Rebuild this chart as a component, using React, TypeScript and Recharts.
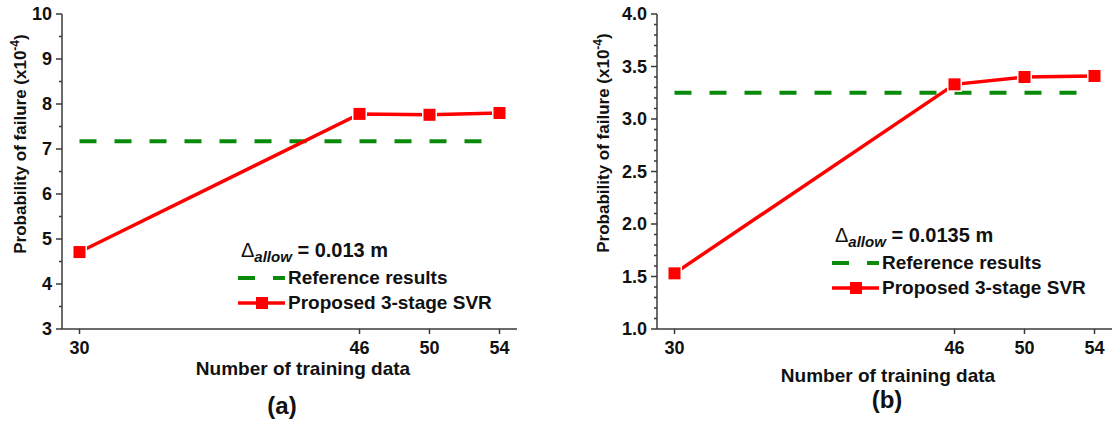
import React from "react";
import { LineChart, Line, XAxis, YAxis, Label, Legend } from "recharts";

// number of training data (x categories)
const trainingSizes = [30, 46, 50, 54];

// panel (a): delta_allow = 0.013 m
const proposedA = [4.71, 7.78, 7.76, 7.8];
const referenceA = [7.17, 7.17, 7.17, 7.17];
const yMajorA = [3, 4, 5, 6, 7, 8, 9, 10];

// panel (b): delta_allow = 0.0135 m
const proposedB = [1.53, 3.33, 3.4, 3.41];
const referenceB = [3.25, 3.25, 3.25, 3.25];
const yMajorB = [1.0, 1.5, 2.0, 2.5, 3.0, 3.5, 4.0];

const xTicks = [30, 46, 50, 54];
const xDomain = [29, 55];

const FONT = '"Liberation Sans", Arial, sans-serif';
const AXIS = "#3a3a3a";
const RED = "#ff0000";
const GREEN = "#0a8a0a";

function minorTicks(major: number[], step: number) {
    const out: number[] = [];
    const lo = major[0];
    const hi = major[major.length - 1];
    const n = Math.round((hi - lo) / step);
    for (let i = 0; i <= n; i++) out.push(Math.round((lo + i * step) * 100) / 100);
    return out;
}

const isMajor = (major: number[], v: number) => major.some((m) => Math.abs(m - v) < 1e-6);

interface PanelProps {
    proposed: number[];
    reference: number[];
    yMajor: number[];
    yStep: number;
    decimals: number;
    left: number;
    width: number;
    yAxisWidth: number;
    marginRight: number;
    allow: string;
    legendX: number;
    legendY: number;
    yTitleX: number;
    yTitleY: number;
    xTitleX: number;
    xTitleY: number;
    caption: string;
    captionX: number;
    captionY: number;
}

const HEIGHT = 428;

function Panel(p: PanelProps) {
    const data = trainingSizes.map((n, i) => ({ n, proposed: p.proposed[i], reference: p.reference[i] }));
    const yAll = minorTicks(p.yMajor, p.yStep);
    const yDomain = [p.yMajor[0], p.yMajor[p.yMajor.length - 1]];
    const txt = { fontFamily: FONT, fontWeight: 700, fill: "#111" } as const;

    return (
        <div style={{ position: "absolute", left: p.left, top: 0 }}>
            <LineChart width={p.width} height={HEIGHT} data={data} margin={{ top: 14, right: p.marginRight, bottom: 0, left: 0 }}>
                <XAxis
                    dataKey="n"
                    type="number"
                    domain={xDomain}
                    ticks={xTicks}
                    interval={0}
                    height={99}
                    tickSize={0}
                    tickMargin={0}
                    tickLine={false}
                    axisLine={{ stroke: AXIS, strokeWidth: 1.5 }}
                    tick={(t: any) => (
                        <g key={`xb-${t.payload.value}`}>
                            <line x1={t.x} x2={t.x} y1={t.y} y2={t.y + 5} stroke={AXIS} strokeWidth={1.5} />
                            <text x={t.x} y={t.y + 25} textAnchor="middle" fontSize={18} {...txt}>
                                {t.payload.value}
                            </text>
                        </g>
                    )}
                >
                    <Label
                        content={() => (
                            <g>
                                <text x={p.xTitleX} y={p.xTitleY} textAnchor="middle" fontSize={19} {...txt}>
                                    Number of training data
                                </text>
                                <text x={p.captionX} y={p.captionY} textAnchor="middle" fontSize={24} {...txt}>
                                    {p.caption}
                                </text>
                            </g>
                        )}
                    />
                </XAxis>
                <XAxis
                    xAxisId="top"
                    dataKey="n"
                    orientation="top"
                    type="number"
                    domain={xDomain}
                    ticks={xTicks}
                    interval={0}
                    height={0}
                    tickSize={0}
                    tickMargin={0}
                    tickLine={false}
                    axisLine={{ stroke: AXIS, strokeWidth: 1.5 }}
                    tick={(t: any) => (
                        <line key={`xt-${t.payload.value}`} x1={t.x} x2={t.x} y1={t.y} y2={t.y + 5} stroke={AXIS} strokeWidth={1.5} />
                    )}
                />
                <YAxis
                    type="number"
                    domain={yDomain}
                    ticks={yAll}
                    interval={0}
                    width={p.yAxisWidth}
                    tickSize={0}
                    tickMargin={0}
                    tickLine={false}
                    allowDataOverflow
                    axisLine={{ stroke: AXIS, strokeWidth: 1.5 }}
                    tick={(t: any) => {
                        const major = isMajor(p.yMajor, t.payload.value);
                        return (
                            <g key={`yl-${t.payload.value}`}>
                                <line x1={t.x} x2={t.x - (major ? 6 : 3)} y1={t.y} y2={t.y} stroke={AXIS} strokeWidth={1.5} />
                                {major && (
                                    <text x={t.x - 10} y={t.y} dy="0.36em" textAnchor="end" fontSize={18} {...txt}>
                                        {Number(t.payload.value).toFixed(p.decimals)}
                                    </text>
                                )}
                            </g>
                        );
                    }}
                >
                    <Label
                        content={() => (
                            <text
                                transform={`translate(${p.yTitleX}, ${p.yTitleY}) rotate(-90)`}
                                textAnchor="middle"
                                dy="0.36em"
                                fontSize={17}
                                {...txt}
                            >
                                Probability of failure (x10
                                <tspan dy={-7} fontSize={12}>-4</tspan>
                                <tspan dy={7}>)</tspan>
                            </text>
                        )}
                    />
                </YAxis>
                <YAxis
                    yAxisId="r"
                    orientation="right"
                    type="number"
                    domain={yDomain}
                    ticks={yAll}
                    interval={0}
                    width={0}
                    tickSize={0}
                    tickMargin={0}
                    tickLine={false}
                    allowDataOverflow
                    axisLine={{ stroke: AXIS, strokeWidth: 1.5 }}
                    tick={(t: any) => {
                        const major = isMajor(p.yMajor, t.payload.value);
                        return (
                            <line key={`yr-${t.payload.value}`} x1={t.x} x2={t.x - (major ? 6 : 3)} y1={t.y} y2={t.y} stroke={AXIS} strokeWidth={1.5} />
                        );
                    }}
                />
                <Legend
                    layout="vertical"
                    align="center"
                    verticalAlign="middle"
                    wrapperStyle={{ left: 0, top: 0, width: p.width, height: HEIGHT, pointerEvents: "none" }}
                    content={() => {
                        const lx = p.legendX - p.left;
                        const ly = p.legendY;
                        return (
                            <svg width={p.width} height={HEIGHT} style={{ position: "absolute", left: 0, top: 0 }}>
                                <text x={lx + 3} y={ly} fontFamily={FONT} fontSize={20} fill="#111">
                                    Δ
                                    <tspan dy={5} fontSize={15} fontStyle="italic" fontWeight={700}>allow</tspan>
                                    <tspan dy={-5} fontWeight={700}> = {p.allow}</tspan>
                                </text>
                                <line x1={lx} x2={lx + 47} y1={ly + 21} y2={ly + 21} stroke={GREEN} strokeWidth={4} strokeDasharray="17 18" />
                                <text x={lx + 50} y={ly + 27} fontSize={19} {...txt}>
                                    Reference results
                                </text>
                                <line x1={lx} x2={lx + 47} y1={ly + 46} y2={ly + 46} stroke={RED} strokeWidth={3.5} />
                                <rect x={lx + 18} y={ly + 40} width={12} height={12} fill={RED} />
                                <text x={lx + 50} y={ly + 52} fontSize={19} {...txt}>
                                    Proposed 3-stage SVR
                                </text>
                            </svg>
                        );
                    }}
                />
                <Line
                    dataKey="reference"
                    name="Reference results"
                    stroke={GREEN}
                    strokeWidth={4}
                    strokeDasharray="17 18"
                    dot={false}
                    isAnimationActive={false}
                />
                <Line
                    dataKey="proposed"
                    name="Proposed 3-stage SVR"
                    stroke={RED}
                    strokeWidth={3.5}
                    isAnimationActive={false}
                    dot={(d: any) => (
                        <g key={`dot-${d.index}`}>
                            <rect x={d.cx - 7.5} y={d.cy - 7.5} width={15} height={15} fill="#fff" />
                            <rect x={d.cx - 6} y={d.cy - 6} width={12} height={12} fill={RED} />
                        </g>
                    )}
                />
            </LineChart>
        </div>
    );
}

export default function App() {
    return (
        <div style={{ position: "absolute", left: 0, top: 0, width: 1113, height: HEIGHT, background: "#fff" }}>
            <Panel
                proposed={proposedA}
                reference={referenceA}
                yMajor={yMajorA}
                yStep={0.5}
                decimals={0}
                left={0}
                width={530}
                yAxisWidth={62}
                marginRight={13}
                allow="0.013 m"
                legendX={238}
                legendY={257}
                yTitleX={20}
                yTitleY={144}
                xTitleX={303}
                xTitleY={375}
                caption="(a)"
                captionX={282}
                captionY={414}
            />
            <Panel
                proposed={proposedB}
                reference={referenceB}
                yMajor={yMajorB}
                yStep={0.1}
                decimals={1}
                left={540}
                width={573}
                yAxisWidth={117}
                marginRight={1}
                allow="0.0135 m"
                legendX={832}
                legendY={242}
                yTitleX={63}
                yTitleY={143}
                xTitleX={348}
                xTitleY={382}
                caption="(b)"
                captionX={347}
                captionY={408}
            />
        </div>
    );
}
